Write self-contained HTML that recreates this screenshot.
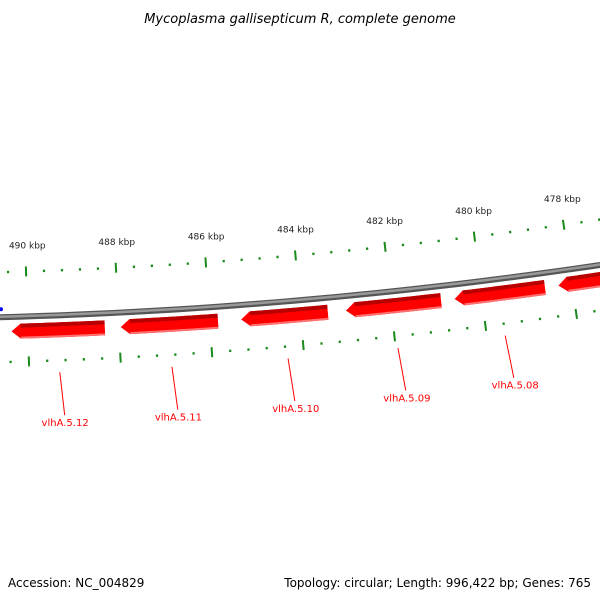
<!DOCTYPE html>
<html><head><meta charset="utf-8"><style>
html,body{margin:0;padding:0;background:#fff}
svg{display:block;font-family:"DejaVu Sans","Liberation Sans",sans-serif}
</style></head><body>
<svg id="map" width="600" height="600" viewBox="0 0 600 600">
<text x="300" y="23" text-anchor="middle" font-size="13" font-style="italic" fill="#000">Mycoplasma gallisepticum R, complete genome</text>
<text x="8" y="587" font-size="12" fill="#000">Accession: NC_004829</text>
<text x="591" y="587" font-size="12" text-anchor="end" fill="#000">Topology: circular; Length: 996,422 bp; Genes: 765</text>
<g id="plot"></g>
</svg>
<script>
const tickLabels = [490, 488, 486, 484, 482, 480, 478];
const geneNames = ["vlhA.5.12","vlhA.5.11","vlhA.5.10","vlhA.5.09","vlhA.5.08","vlhA.5.07"];
const geneStarts = [488.31, 485.82, 483.40, 480.90, 478.60, 474.00];
const geneEnds = [490.36, 487.96, 485.31, 483.00, 480.60, 478.30];
const blueMarks = [490.58];

const CX=-133, CY=-4681, K=0.00908, K0=490, T0=0.0321;
const NS='http://www.w3.org/2000/svg';
const g=document.getElementById('plot');
function ang(kbp){return T0+(K0-kbp)*K;}
function pt(kbp,r){const t=ang(kbp);return [CX+r*Math.sin(t),CY+r*Math.cos(t)];}
function mk(tag,attrs){const e=document.createElementNS(NS,tag);for(const k in attrs)e.setAttribute(k,attrs[k]);g.appendChild(e);return e;}
function arcPath(k1,k2,r){let d='';const n=40;for(let i=0;i<=n;i++){const p=pt(k1+(k2-k1)*i/n,r);d+=(i?'L':'M')+p[0].toFixed(2)+' '+p[1].toFixed(2);}return d;}

let e=mk('path',{d:arcPath(491.5,474,5000),stroke:'#555',"stroke-width":6,fill:'none'});

e=mk('path',{d:arcPath(491.5,474,4999.5),stroke:'#999',"stroke-width":2.5,fill:'none'});


blueMarks.forEach(b=>{const p=pt(b,4992);e=mk('circle',{cx:p[0],cy:p[1],r:2,fill:'#00f'});
});

for(let kb=491.2;kb>=474;kb-=0.4){
  const kr=Math.round(kb*10)/10;
  const major=Math.abs(kr/2-Math.round(kr/2))<0.01;
  [4955,5045].forEach((r,ri)=>{
    const a=pt(kr,r-(major?5:1.2)),b=pt(kr,r+(major?5:1.2));
    e=mk('line',{x1:a[0],y1:a[1],x2:b[0],y2:b[1],stroke:'#1a8a1a',"stroke-width":major?2:2.2});
    
  });
}
tickLabels.forEach(t=>{const p=pt(t,4932);
  e=mk('text',{x:p[0]+2,y:p[1],"font-size":9,"text-anchor":"middle",fill:'#222'});
  e.textContent=t+' kbp';
  });

geneNames.forEach((nm,i)=>{
  const s=geneStarts[i],en=geneEnds[i];
  const ri=5007,ro=5022,rm=(ro+ri)/2,head=0.2;
  const body=en-head;
  let d='M'+pt(s,ro).join(' ');
  for(let j=1;j<=20;j++)d+='L'+pt(s+(body-s)*j/20,ro).join(' ');
  d+='L'+pt(en,rm).join(' ')+'L'+pt(body,ri).join(' ');
  for(let j=19;j>=0;j--)d+='L'+pt(s+(body-s)*j/20,ri).join(' ');
  d+='Z';
  const grp=document.createElementNS(NS,'g');g.appendChild(grp);
  
  let p=document.createElementNS(NS,'path');p.setAttribute('d',d);p.setAttribute('fill','#ff0000');grp.appendChild(p);
  p=document.createElementNS(NS,'path');p.setAttribute('d',arcPath(s,body,ri+2));p.setAttribute('stroke','#b80000');p.setAttribute('stroke-width',4);p.setAttribute('fill','none');grp.appendChild(p);
  p=document.createElementNS(NS,'path');p.setAttribute('d',arcPath(s,body,ro-1));p.setAttribute('stroke','#ff7070');p.setAttribute('stroke-width',2);p.setAttribute('fill','none');grp.appendChild(p);
  const c=(s+en)/2;
  const a=pt(c,5057),b=pt(c-0.07,5100);
  e=mk('line',{x1:a[0],y1:a[1],x2:b[0],y2:b[1],stroke:'#f00',"stroke-width":1});
  
  const tp=pt(c-0.07,5111);
  e=mk('text',{x:tp[0],y:tp[1],"font-size":10,"text-anchor":"middle",fill:'#f00'});
  e.textContent=nm;
  
});
</script>
</body></html>
